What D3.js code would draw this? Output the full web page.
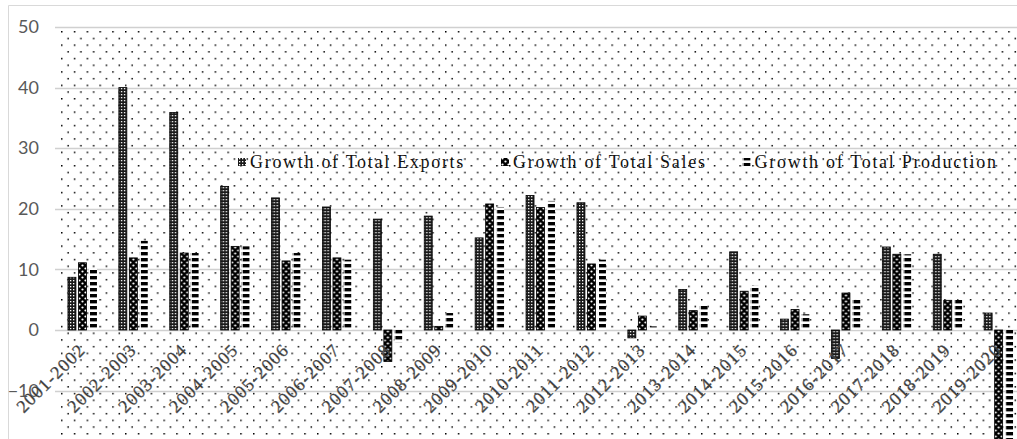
<!DOCTYPE html>
<html>
<head>
<meta charset="utf-8">
<script src="https://cdn.jsdelivr.net/npm/d3@7"></script>
<style>
  html, body { margin: 0; padding: 0; background: #fff; }
  svg { display: block; }
</style>
</head>
<body>
<svg id="chart" width="1017" height="439"></svg>
<script>
// Year-on-year growth (%) by fiscal year
const categories = ["2001-2002","2002-2003","2003-2004","2004-2005","2005-2006","2006-2007","2007-2008","2008-2009","2009-2010","2010-2011","2011-2012","2012-2013","2013-2014","2014-2015","2015-2016","2016-2017","2017-2018","2018-2019","2019-2020"];
const seriesNames = ["Growth of Total Exports","Growth of Total Sales","Growth of Total Production"];
const exportsGrowth    = [8.7, 40, 35.9, 23.7, 21.8, 20.3, 18.3, 18.8, 15.2, 22.2, 21, -1.3, 6.7, 12.9, 1.8, -4.7, 13.7, 12.5, 2.8];
const salesGrowth      = [11.1, 11.9, 12.7, 13.8, 11.4, 11.9, -5.2, 0.6, 20.8, 20.2, 10.9, 2.3, 3.2, 6.4, 3.4, 6.1, 12.5, 4.9, -21];
const productionGrowth = [10.2, 14.7, 12.7, 13.8, 12.7, 11.6, -2, 2.8, 20.3, 21.3, 11.6, 0.6, 4.0, 7.3, 2.6, 5.1, 12.5, 5, -21];
const yTicks = [-10, 0, 10, 20, 30, 40, 50];

const seriesValues = [exportsGrowth, salesGrowth, productionGrowth];
const patternIds = ["pat-exports", "pat-sales", "pat-production"];

const svg = d3.select("#chart");
const W = 1017, H = 439;
const plot = { left: 57, top: 27, right: 57 + 19 * 50.9, zeroY: 330 };

const defs = svg.append("defs");

// background dot texture of the plot area
const bg = defs.append("pattern").attr("id", "pat-bg")
  .attr("patternUnits", "userSpaceOnUse").attr("width", 12.8).attr("height", 13.4)
  .attr("x", plot.left + 4).attr("y", plot.top + 4);
bg.append("rect").attr("width", 1.5).attr("height", 1.5).attr("x", 0).attr("y", 0).attr("fill", "#000");
bg.append("rect").attr("width", 1.5).attr("height", 1.5).attr("x", 6.4).attr("y", 6.7).attr("fill", "#000");

// exports: dark lattice with small white cells
const pe = defs.append("pattern").attr("id", "pat-exports")
  .attr("patternUnits", "userSpaceOnUse").attr("width", 3).attr("height", 3);
pe.append("rect").attr("width", 3).attr("height", 3).attr("fill", "#1a1a1a");
pe.append("rect").attr("x", 1).attr("y", 1).attr("width", 1.3).attr("height", 1.3).attr("fill", "#fff");

// sales: black with white dots
const ps = defs.append("pattern").attr("id", "pat-sales")
  .attr("patternUnits", "userSpaceOnUse").attr("width", 6).attr("height", 6);
ps.append("rect").attr("width", 6).attr("height", 6).attr("fill", "#000");
ps.append("circle").attr("cx", 1.5).attr("cy", 1.5).attr("r", 1.1).attr("fill", "#fff");
ps.append("circle").attr("cx", 4.5).attr("cy", 4.5).attr("r", 1.1).attr("fill", "#fff");

// production: horizontal dashes
const pp = defs.append("pattern").attr("id", "pat-production")
  .attr("patternUnits", "userSpaceOnUse").attr("width", 8).attr("height", 6);
pp.append("rect").attr("width", 8).attr("height", 6).attr("fill", "#fff");
pp.append("rect").attr("x", 1).attr("y", 0).attr("width", 7).attr("height", 3.4).attr("fill", "#000");

// chart frame
svg.append("line").attr("x1", 8.5).attr("x2", 8.5).attr("y1", 5.5).attr("y2", H).attr("stroke", "#d9d9d9");
svg.append("line").attr("x1", 8.5).attr("x2", W).attr("y1", 5.5).attr("y2", 5.5).attr("stroke", "#d9d9d9");

// scales
const y = d3.scaleLinear().domain([0, 50]).range([plot.zeroY, plot.top]);
const x0 = d3.scaleBand().domain(categories).range([plot.left, plot.right]).padding(0);
const groupHalf = 14.5;
const x1 = d3.scaleBand().domain(seriesNames)
  .range([x0.bandwidth() / 2 - groupHalf, x0.bandwidth() / 2 + groupHalf])
  .paddingInner(0.24).paddingOuter(0);

// plot area background
svg.append("rect").attr("x", plot.left).attr("y", plot.top + 2)
  .attr("width", W - plot.left).attr("height", H - plot.top)
  .attr("fill", "url(#pat-bg)");

// gridlines
svg.append("g").selectAll("line").data(yTicks).join("line")
  .attr("x1", plot.left - 2).attr("x2", W)
  .attr("y1", d => Math.round(y(d)) + 0.5).attr("y2", d => Math.round(y(d)) + 0.5)
  .attr("stroke", "#d0d0d0").attr("stroke-width", 1.3);

// y axis labels
const yAxis = d3.axisLeft(y).tickValues(yTicks).tickSize(0).tickPadding(0);
const ya = svg.append("g").attr("transform", `translate(39,0)`).call(yAxis);
ya.select(".domain").remove();
ya.selectAll("text")
  .attr("font-family", "Lato, 'Open Sans', sans-serif")
  .attr("font-size", 18).attr("fill", "#595959");

// bars
const groups = svg.append("g").selectAll("g").data(categories).join("g")
  .attr("transform", d => `translate(${x0(d)},0)`);
groups.selectAll("rect")
  .data((c, i) => seriesNames.map((s, k) => ({ s, k, v: seriesValues[k][i] })))
  .join("rect")
  .attr("x", d => x1(d.s))
  .attr("width", x1.bandwidth())
  .attr("y", d => Math.min(y(d.v), y(0)))
  .attr("height", d => Math.abs(y(d.v) - y(0)))
  .attr("fill", d => `url(#${patternIds[d.k]})`)
  .attr("stroke", d => d.k === 2 ? "none" : "#000")
  .attr("stroke-width", 0.8);

// category labels
svg.append("g").selectAll("text").data(categories).join("text")
  .attr("transform", d => `translate(${x0(d) + x0.bandwidth() / 2 + 4},351) rotate(-45)`)
  .attr("text-anchor", "end")
  .attr("font-family", "'Liberation Serif', 'Times New Roman', serif")
  .attr("font-size", 18).attr("letter-spacing", 1.2)
  .attr("fill", "#333").attr("stroke", "#666").attr("stroke-width", 0.4)
  .text(d => d);

// legend
const legend = svg.append("g").attr("transform", "translate(238,163)");
let lx = 0;
seriesNames.forEach((name, k) => {
  const item = legend.append("g").attr("transform", `translate(${lx},0)`);
  item.append("rect").attr("x", 0).attr("y", -5).attr("width", 8).attr("height", 8)
    .attr("fill", `url(#${patternIds[k]})`);
  const t = item.append("text").attr("x", 12).attr("y", 5)
    .attr("font-family", "'Liberation Serif', 'Times New Roman', serif")
    .attr("font-size", 18).attr("letter-spacing", 1.7).attr("fill", "#111")
    .text(name);
  lx += 12 + t.node().getComputedTextLength() + 36;
});
</script>
</body>
</html>
